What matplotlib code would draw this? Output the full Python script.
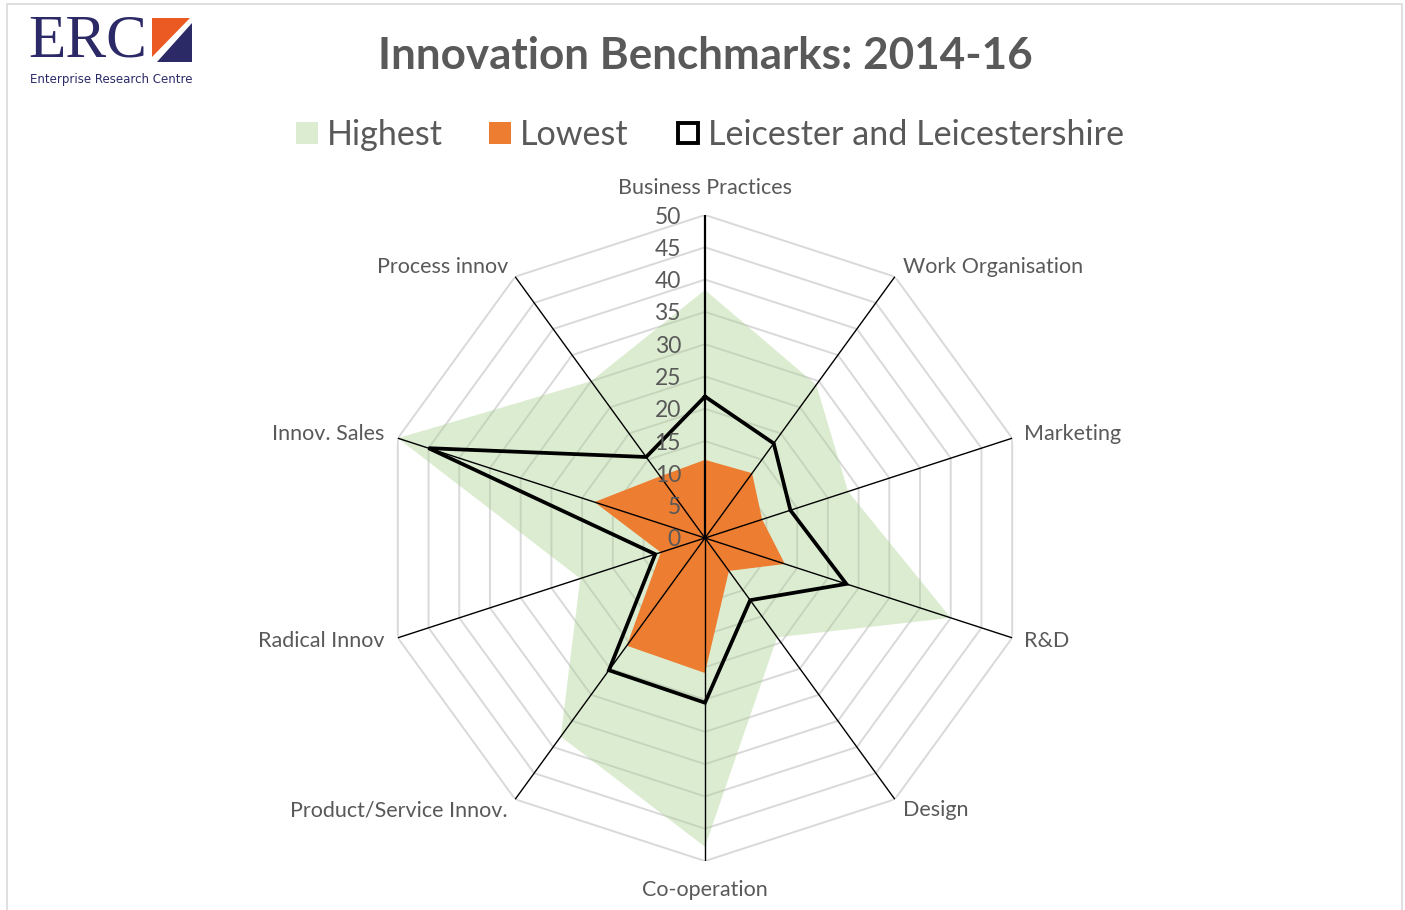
import numpy as np
import matplotlib.pyplot as plt
from matplotlib.patches import Rectangle, Polygon

#---------------------- data ----------------------
categories = ['Business Practices', 'Work Organisation', 'Marketing', 'R&D', 'Design',
              'Co-operation', 'Product/Service Innov.', 'Radical Innov', 'Innov. Sales',
              'Process innov']
highest = [38.4, 29.3, 23.3, 40.0, 19.0, 47.8, 38.0, 20.3, 50.0, 30.0]
lowest = [12.1, 12.4, 9.3, 13.0, 6.3, 20.9, 20.6, 7.2, 18.0, 11.8]
leicester = [21.9, 18.1, 13.9, 23.0, 11.9, 25.5, 25.3, 8.1, 45.0, 15.5]
rticks = [0, 5, 10, 15, 20, 25, 30, 35, 40, 45, 50]
series_names = ['Highest', 'Lowest', 'Leicester and Leicestershire']

#---------------------- style ----------------------
plt.rcParams['font.family'] = ['Lato', 'DejaVu Sans']
GREY_TXT = '#595959'
GREEN = '#a9d08e'
ORANGE = '#ed7d31'
NAVY = '#2b2966'

W, H = 1405, 910
fig = plt.figure(figsize=(W / 100, H / 100), dpi=100)


def px(x, y):
    # pixel coords (top-left origin) -> figure fraction
    return x / W, 1 - y / H


# chart border
fig.patches.append(Rectangle(px(7, 960), (1402 - 7) / W, (960 - 4) / H, transform=fig.transFigure,
                             fill=False, edgecolor='#d9d9d9', lw=1.2))

# radar axes, centre (705,538), radius 323 px
cx, cy, R = 705, 538, 323
ax = fig.add_axes([(cx - R) / W, (H - cy - R) / H, 2 * R / W, 2 * R / H], projection='polar')
ax.set_theta_zero_location('N')
ax.set_theta_direction(-1)
ax.set_ylim(0, 50)
ax.set_axis_off()

n = len(categories)
theta = np.linspace(0, 2 * np.pi, n, endpoint=False)
th = np.append(theta, theta[0])

# grid rings (polygons)
for r in rticks[1:]:
    ax.plot(th, [r] * (n + 1), color='#d9d9d9', lw=1.4, zorder=1)

# series
ax.fill(th, highest + highest[:1], color=GREEN, alpha=0.4, lw=0, zorder=2)
ax.fill(th, lowest + lowest[:1], color=ORANGE, lw=0, zorder=3)

# spokes
for i, t in enumerate(theta):
    ax.plot([t, t], [0, 50], color='black', lw=1.6 if i == 0 else 1.0, zorder=4)

ax.plot(th, leicester + leicester[:1], color='black', lw=2.7, zorder=5, solid_joinstyle='miter')

# value labels
for v in rticks:
    ax.annotate(str(v), xy=(0, v), xytext=(-24, -2), textcoords='offset pixels',
                ha='right', va='center', fontsize=16.5, color=GREY_TXT, zorder=6)

# category labels
lab_off = [(0, 27, 'center'), (8, 10, 'left'), (12, 4, 'left'), (12, -3, 'left'),
           (8, -11, 'left'), (0, -29, 'center'), (-8, -11, 'right'), (-13, -3, 'right'),
           (-13, 4, 'right'), (-7, 10, 'right')]
for t, name, (dx, dy, ha) in zip(theta, categories, lab_off):
    ax.annotate(name, xy=(t, 50), xytext=(dx, dy), textcoords='offset pixels',
                ha=ha, va='center', fontsize=15.5, color=GREY_TXT, annotation_clip=False)

# title
fig.text(*px(705, 56), 'Innovation Benchmarks: 2014-16', ha='center', va='center',
         fontsize=31.7, fontweight='bold', color=GREY_TXT)

# legend
leg_sq = [296, 489, 677]
leg_txt = [327, 520, 708]
leg_face = [(GREEN, 0.4), (ORANGE, 1.0), ('white', 1.0)]
for x0, xt, name, (fc, a) in zip(leg_sq, leg_txt, series_names, leg_face):
    if name.startswith('Leicester'):
        fig.patches.append(Rectangle(px(x0 + 1, 143), 20 / W, 20 / H, transform=fig.transFigure,
                                     facecolor='white', edgecolor='black', lw=2.8))
    else:
        fig.patches.append(Rectangle(px(x0, 144), 22 / W, 22 / H, transform=fig.transFigure,
                                     facecolor=fc, alpha=a, lw=0))
    fig.text(*px(xt, 135), name, ha='left', va='center', fontsize=24.6, color=GREY_TXT)

# logo
fig.text(*px(28, 42), 'ERC', ha='left', va='center', fontsize=44, color=NAVY,
         family='Liberation Serif')
fig.patches.append(Polygon([px(152, 18), px(190, 18), px(152, 57)], closed=True,
                           transform=fig.transFigure, facecolor='#ec5a24', lw=0))
fig.patches.append(Polygon([px(192, 23), px(192, 62), px(157, 62)], closed=True,
                           transform=fig.transFigure, facecolor=NAVY, lw=0))
fig.text(*px(30, 79), 'Enterprise Research Centre', ha='left', va='center', fontsize=8.5,
         color=NAVY, family='DejaVu Sans')

fig.savefig('out.png', dpi=100)
